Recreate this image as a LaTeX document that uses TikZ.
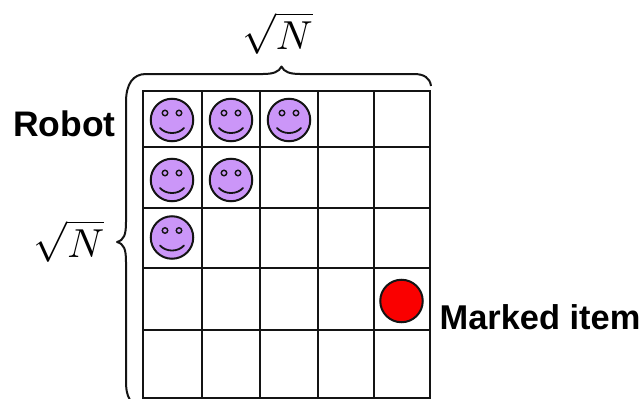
\documentclass[tikz,border=0pt]{standalone}
\usepackage{xcolor}
\usepackage{amsmath}
\usepackage{fontspec}
\setmainfont{Liberation Sans}
\usepackage{tikz}
\usetikzlibrary{positioning}
\definecolor{robotfill}{RGB}{203, 150, 248}
\definecolor{itemred}{RGB}{250, 0, 0}
\definecolor{gridline}{RGB}{20, 20, 20}

\begin{document}
\begin{tikzpicture}[
  x=1pt, y=-1pt,
  gridrule/.style={line width=2.3pt, draw=gridline},
  bracket/.style={line width=2pt, draw=gridline, line join=round},
  bigtext/.style={inner sep=0pt, anchor=base west, font=\bfseries},
  rootlabel/.style={inner sep=0pt, scale=4.05},
  face/.style={circle, draw=gridline, fill=robotfill, line width=2pt,
               minimum size=42.5pt, inner sep=0pt},
  eye/.style={circle, draw=gridline, line width=1.4pt, minimum size=5.5pt, inner sep=0pt},
  marked/.style={circle, draw=gridline, fill=itemred, line width=2pt,
                 minimum size=42.5pt, inner sep=0pt},
  robot/.pic={
    \node[face] (-body) at (0,0) {};
    \node[eye] (-eyel) at (-7,-7) {};
    \node[eye] (-eyer) at (7,-7) {};
    \draw[line width=1.8pt, draw=gridline, line cap=round]
      (-12,8) .. controls (-6,14.7) and (6,14.7) .. (12,8);
  },
]
  \useasboundingbox (0,0) rectangle (641,399);
  \fill[white] (0,0) rectangle (641,399);

  % Grid
  \foreach \xpos in {143,202,260,318,374,430}
    \draw[gridrule] (\xpos,90) -- (\xpos,399);
  \foreach \ypos in {91,147,208,268,330,398}
    \draw[gridrule] (142,\ypos) -- (431,\ypos);

  % Robots
  \pic (ra) at (172,120) {robot};
  \pic (rb) at (231,120) {robot};
  \pic (rc) at (289,120) {robot};
  \pic (rd) at (172,180) {robot};
  \pic (re) at (231,180) {robot};
  \pic (rf) at (172,237.5) {robot};

  % Marked item
  \node[marked] (item) at (401.5,301) {};

  % Braces
  \draw[bracket] (431,86) .. controls (430,78) and (424,74) .. (414,74)
    -- (300,74) .. controls (290,74) and (284,72) .. (281.5,66.5)
    .. controls (279,72) and (273,74) .. (263,74)
    -- (146,74) .. controls (133,74) and (126,84) .. (126,102)
    -- (126,222) .. controls (126,235) and (124,240) .. (117,242)
    .. controls (124,244) and (126,249) .. (126,262)
    -- (126,380) .. controls (126,390) and (127,395) .. (130,400);

  % Labels
  \node[bigtext] (robotlabel) at (13,136) {\fontsize{35.5}{36}\selectfont Robot};
  \node[bigtext] (itemlabel) at (439.5,329) {\fontsize{34.4}{36}\selectfont Marked item};
  \node[rootlabel] (toproot) at (277.5,33) {$\sqrt{N}$};
  \node[rootlabel] (leftroot) at (69,241) {$\sqrt{N}$};
\end{tikzpicture}
\end{document}
